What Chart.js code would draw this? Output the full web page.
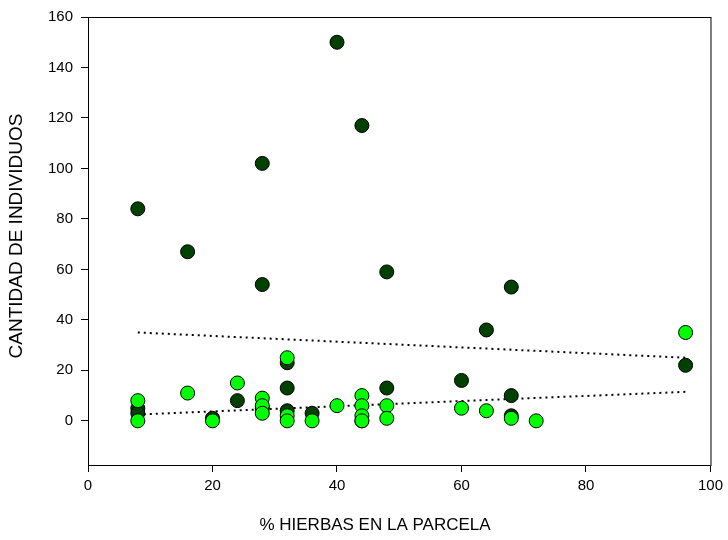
<!DOCTYPE html>
<html>
<head>
<meta charset="utf-8">
<script src="https://cdn.jsdelivr.net/npm/chart.js@4.4.0/dist/chart.umd.min.js"></script>
<style>
  html, body { margin: 0; padding: 0; background: #fff; }
  #wrap { width: 728px; height: 540px; }
</style>
</head>
<body>
<div id="wrap"><canvas id="myChart" width="728" height="540"></canvas></div>
<script>
// values
const darkX = [8, 8, 8, 16, 20, 24, 28, 28, 28, 32, 32, 32, 36, 40, 44, 44, 48, 48, 60, 64, 68, 68, 68, 96];
const darkY = [84, 5, 3, 67, 1, 8, 102, 54, 5, 23, 13, 4, 3, 150, 117, 0, 59, 13, 16, 36, 53, 10, 2, 22];
const lightX = [8, 8, 16, 20, 24, 28, 28, 28, 32, 32, 32, 36, 40, 44, 44, 44, 44, 48, 48, 60, 64, 68, 72, 96];
const lightY = [8, 0, 11, 0, 15, 9, 6, 3, 25, 2, 0, 0, 6, 10, 6, 2, 0, 6, 1, 5, 4, 1, 0, 35];
// dotted trend lines, end points
const darkTrendX = [8, 96];
const darkTrendY = [35, 25];
const lightTrendX = [8, 96];
const lightTrendY = [2.5, 11.5];
const xTicks = [0, 20, 40, 60, 80, 100];
const yTicks = [0, 20, 40, 60, 80, 100, 120, 140, 160];
const xTitle = '% HIERBAS EN LA PARCELA';
const yTitle = 'CANTIDAD DE INDIVIDUOS';

const toPts = (xs, ys) => xs.map((x, i) => ({ x: x, y: ys[i] }));
const family = '"Liberation Sans", Arial, sans-serif';

// box round the plot and the two axis titles
const frame = {
    id: 'frame',
    afterDraw: (chart) => {
        const { ctx, chartArea: { top, bottom, left, right } } = chart;
        ctx.save();
        ctx.strokeStyle = '#000';
        ctx.lineWidth = 1;
        ctx.strokeRect(left + 0.5, top + 0.5, right - left, bottom - top);

        ctx.fillStyle = '#000';
        ctx.textAlign = 'center';
        ctx.textBaseline = 'middle';
        ctx.font = '17px ' + family;
        ctx.fillText(xTitle, 375, 525);

        ctx.translate(17, 236);
        ctx.rotate(-Math.PI / 2);
        ctx.font = '19px ' + family;
        ctx.fillText(yTitle, 0, 0);
        ctx.restore();
    }
};

new Chart(document.getElementById('myChart'), {
    type: 'scatter',
    data: {
        datasets: [
            {
                label: 'trend dark',
                type: 'line',
                data: toPts(darkTrendX, darkTrendY),
                borderColor: '#000',
                borderWidth: 2,
                borderDash: [2, 4],
                pointRadius: 0,
                fill: false,
                order: 3
            },
            {
                label: 'trend light',
                type: 'line',
                data: toPts(lightTrendX, lightTrendY),
                borderColor: '#000',
                borderWidth: 2,
                borderDash: [2, 4],
                pointRadius: 0,
                fill: false,
                order: 3
            },
            {
                label: 'dark',
                data: toPts(darkX, darkY),
                backgroundColor: '#004000',
                borderColor: '#000',
                borderWidth: 1,
                pointRadius: 7,
                order: 2
            },
            {
                label: 'light',
                data: toPts(lightX, lightY),
                backgroundColor: '#00FF00',
                borderColor: '#000',
                borderWidth: 1,
                pointRadius: 7,
                order: 1
            }
        ]
    },
    plugins: [frame],
    options: {
        responsive: false,
        animation: false,
        layout: { padding: { top: 16, right: 16, left: 0, bottom: 0 } },
        plugins: {
            legend: { display: false },
            tooltip: { enabled: false }
        },
        scales: {
            x: {
                min: 0,
                max: 100,
                afterBuildTicks: (s) => { s.ticks = xTicks.map(v => ({ value: v })); },
                afterFit: (s) => { s.height = 75; },
                grid: { drawOnChartArea: false, tickLength: 7, color: '#000' },
                border: { color: '#000', width: 1 },
                ticks: { color: '#000', font: { family: family, size: 15 }, padding: 5, maxRotation: 0 }
            },
            y: {
                min: -17.5,
                max: 160,
                afterBuildTicks: (s) => { s.ticks = yTicks.map(v => ({ value: v })); },
                afterFit: (s) => { s.width = 88; },
                grid: { drawOnChartArea: false, tickLength: 7, color: '#000' },
                border: { color: '#000', width: 1 },
                ticks: { color: '#000', font: { family: family, size: 15 }, padding: 8 }
            }
        }
    }
});
</script>
</body>
</html>
